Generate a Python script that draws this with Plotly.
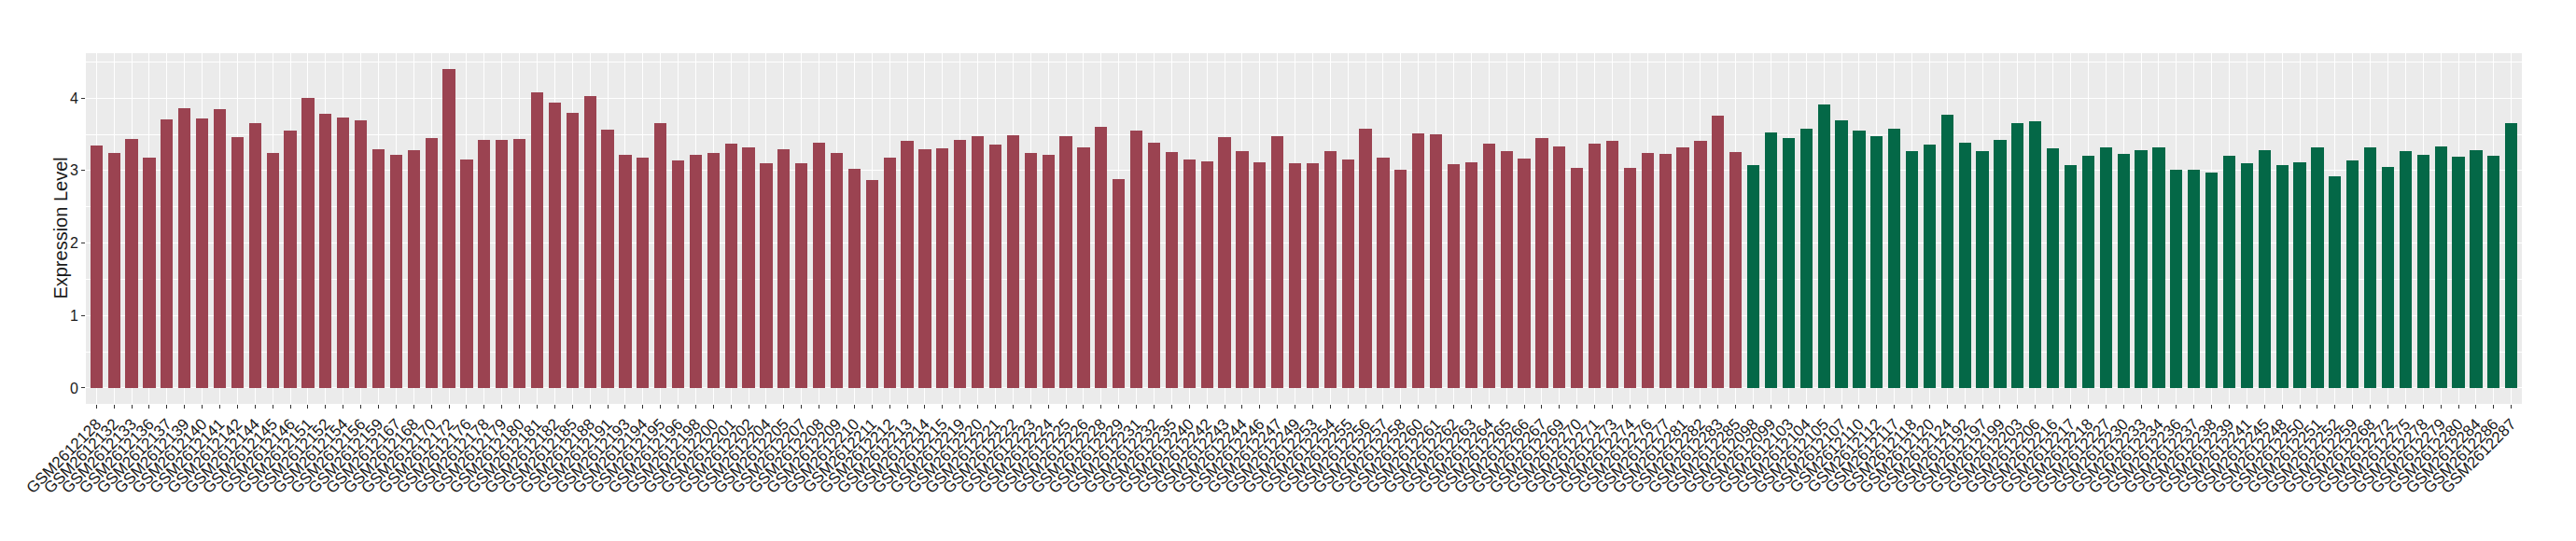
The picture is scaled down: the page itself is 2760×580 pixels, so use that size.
import plotly.graph_objects as go

prefix = "GSM2612"

red_ids = ["128","132","133","136","137","139","140","141","142","144","145","146","151","152",
           "154","156","159","167","168","170","172","176","178","179","180","181","182","185",
           "188","191","193","194","195","196","198","200","201","202","204","205","207","208",
           "209","210","211","212","213","214","215","219","220","221","222","223","224","225",
           "226","228","229","231","232","235","240","242","243","244","246","247","249","253",
           "254","255","256","257","258","260","261","262","263","264","265","266","267","269",
           "270","271","273","274","276","277","281","282","283","285"]
red_values = [3.34,3.24,3.43,3.18,3.70,3.86,3.72,3.85,3.46,3.65,3.24,3.55,4.00,3.78,
              3.73,3.69,3.29,3.22,3.28,3.45,4.40,3.15,3.42,3.42,3.43,4.08,3.94,3.79,
              4.03,3.56,3.22,3.18,3.65,3.14,3.22,3.24,3.37,3.32,3.10,3.29,3.10,3.38,
              3.24,3.02,2.87,3.18,3.41,3.29,3.31,3.42,3.47,3.36,3.49,3.24,3.22,3.47,
              3.32,3.60,2.88,3.55,3.38,3.25,3.15,3.13,3.46,3.27,3.11,3.47,3.10,3.10,
              3.27,3.15,3.58,3.18,3.01,3.51,3.50,3.09,3.11,3.37,3.27,3.16,3.45,3.33,
              3.04,3.37,3.41,3.04,3.24,3.23,3.32,3.41,3.76,3.25]

green_ids = ["098","099","103","104","105","107","110","112","117","118","120","124","192","197",
             "199","203","206","216","217","218","227","230","233","234","236","237","238","239",
             "241","245","248","250","251","252","259","268","272","275","278","279","280","284",
             "286","287"]
green_values = [3.07,3.52,3.45,3.58,3.91,3.69,3.55,3.47,3.58,3.27,3.36,3.77,3.38,3.27,
                3.42,3.65,3.68,3.31,3.07,3.20,3.32,3.23,3.28,3.32,3.01,3.01,2.97,3.20,
                3.10,3.28,3.07,3.11,3.32,2.92,3.14,3.32,3.05,3.27,3.22,3.33,3.19,3.28,
                3.20,3.65]

y_ticks = [0, 1, 2, 3, 4]
y_minor = [0.5, 1.5, 2.5, 3.5, 4.5]
y_title = "Expression Level"

red_names = [prefix + s for s in red_ids]
green_names = [prefix + s for s in green_ids]
all_names = red_names + green_names
n = len(all_names)

fig = go.Figure()
fig.add_trace(go.Bar(x=red_names, y=red_values, width=0.7,
                     marker=dict(color="#9B4351", line=dict(width=0))))
fig.add_trace(go.Bar(x=green_names, y=green_values, width=0.7,
                     marker=dict(color="#046847", line=dict(width=0))))

fig.update_layout(
    width=2760, height=580, autosize=False,
    margin=dict(l=84, r=66, t=49, b=155),
    plot_bgcolor="#EBEBEB", paper_bgcolor="white",
    showlegend=False, barmode="overlay", bargap=0,
    font=dict(family="Liberation Sans, Arial, sans-serif", color="#1a1a1a"),
)
fig.update_xaxes(
    type="category", categoryorder="array", categoryarray=all_names,
    tickmode="array", tickvals=all_names, ticktext=all_names,
    range=[-0.6, n - 1 + 0.6],
    tickangle=-45, tickfont=dict(size=17, color="#1a1a1a"),
    ticks="outside", ticklen=4, tickcolor="#333333", tickwidth=1,
    showgrid=True, gridcolor="white", gridwidth=1.3,
    zeroline=False, showline=False, automargin=False,
)
fig.update_yaxes(
    range=[-0.22, 4.62], tickvals=y_ticks,
    tickfont=dict(size=16, color="#1a1a1a"),
    ticks="outside", ticklen=4, tickcolor="#333333", tickwidth=1,
    showgrid=True, gridcolor="white", gridwidth=1.3,
    minor=dict(tickvals=y_minor, showgrid=True, gridcolor="white", gridwidth=0.6, ticks=""),
    zeroline=False, showline=False, automargin=False,
)
fig.add_annotation(
    text=y_title, xref="paper", yref="paper", x=-0.0105, y=0.5,
    xanchor="center", yanchor="middle", textangle=-90, showarrow=False,
    font=dict(size=20, color="#1a1a1a"),
)

fig.write_html("out.html")
